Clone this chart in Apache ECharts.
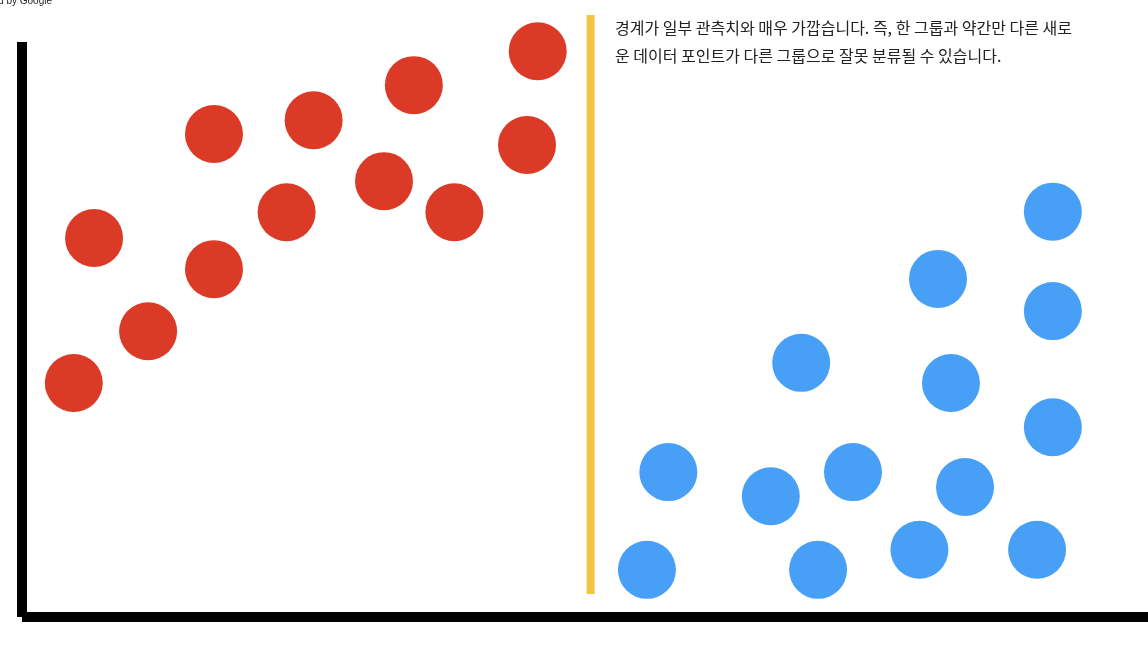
<!DOCTYPE html>
<html>
<head>
<meta charset="utf-8">
<script src="https://cdn.jsdelivr.net/npm/echarts@6/dist/echarts.min.js"></script>
<style>
html,body{margin:0;padding:0;background:#fff;}
#chart{width:1148px;height:652px;}
</style>
</head>
<body>
<div id="chart"></div>
<script>
// Group A (red) points: [x, y]
const redPoints = [
  [4.6, 40.7], [11.2, 49.7], [6.4, 65.9], [17.05, 60.5], [17.05, 84.0],
  [23.5, 70.4], [25.9, 86.4], [32.15, 75.8], [34.8, 92.5], [38.4, 70.4],
  [44.85, 82.1], [45.8, 98.4]
];
// Group B (blue) points: [x, y]
const bluePoints = [
  [55.5, 8.2], [57.4, 25.2], [66.5, 21.0], [69.2, 44.2], [70.7, 8.2],
  [73.8, 25.2], [79.7, 11.7], [81.35, 58.8], [82.5, 40.7], [83.75, 22.6],
  [90.15, 11.7], [91.55, 70.5], [91.55, 53.2], [91.55, 33.0]
];
const boundaryX = 50.5;
const captionLines = [
  '경계가 일부 관측치와 매우 가깝습니다. 즉, 한 그룹과 약간만 다른 새로',
  '운 데이터 포인트가 다른 그룹으로 잘못 분류될 수 있습니다.'
];
const credit = 'Powered by Google';

const chart = echarts.init(document.getElementById('chart'));
const font = '"Noto Sans CJK KR", "Noto Sans", sans-serif';
chart.setOption({
  animation: false,
  backgroundColor: '#ffffff',
  grid: { left: 22, right: 0, top: 42, bottom: 35 },
  xAxis: {
    type: 'value', min: 0, max: 100,
    axisLine: { show: true, lineStyle: { color: '#000', width: 10, cap: 'butt' } },
    axisTick: { show: false }, axisLabel: { show: false }, splitLine: { show: false }
  },
  yAxis: {
    type: 'value', min: 0, max: 100,
    axisLine: { show: true, lineStyle: { color: '#000', width: 10, cap: 'butt' } },
    axisTick: { show: false }, axisLabel: { show: false }, splitLine: { show: false }
  },
  series: [
    {
      type: 'scatter', data: redPoints, symbolSize: 58, clip: false,
      itemStyle: { color: '#DB3B26', opacity: 1 }
    },
    {
      type: 'scatter', data: bluePoints, symbolSize: 58, clip: false,
      itemStyle: { color: '#47A0F6', opacity: 1 }
    }
  ]
});
const bx = chart.convertToPixel({ xAxisIndex: 0 }, boundaryX);
chart.setOption({
  graphic: [
    {
      type: 'line', z: 5,
      shape: { x1: bx, y1: 15, x2: bx, y2: 594 },
      style: { stroke: '#F4C542', lineWidth: 8 }
    },
    {
      type: 'text', left: 615, top: 14,
      style: {
        text: captionLines.join('\n'), font: '16px ' + font,
        fill: '#222', lineHeight: 28
      }
    },
    {
      type: 'text', right: 1096, top: -4,
      style: { text: credit, font: '10px Arial, "Liberation Sans", sans-serif', fill: '#222' }
    }
  ]
});
</script>
</body>
</html>
